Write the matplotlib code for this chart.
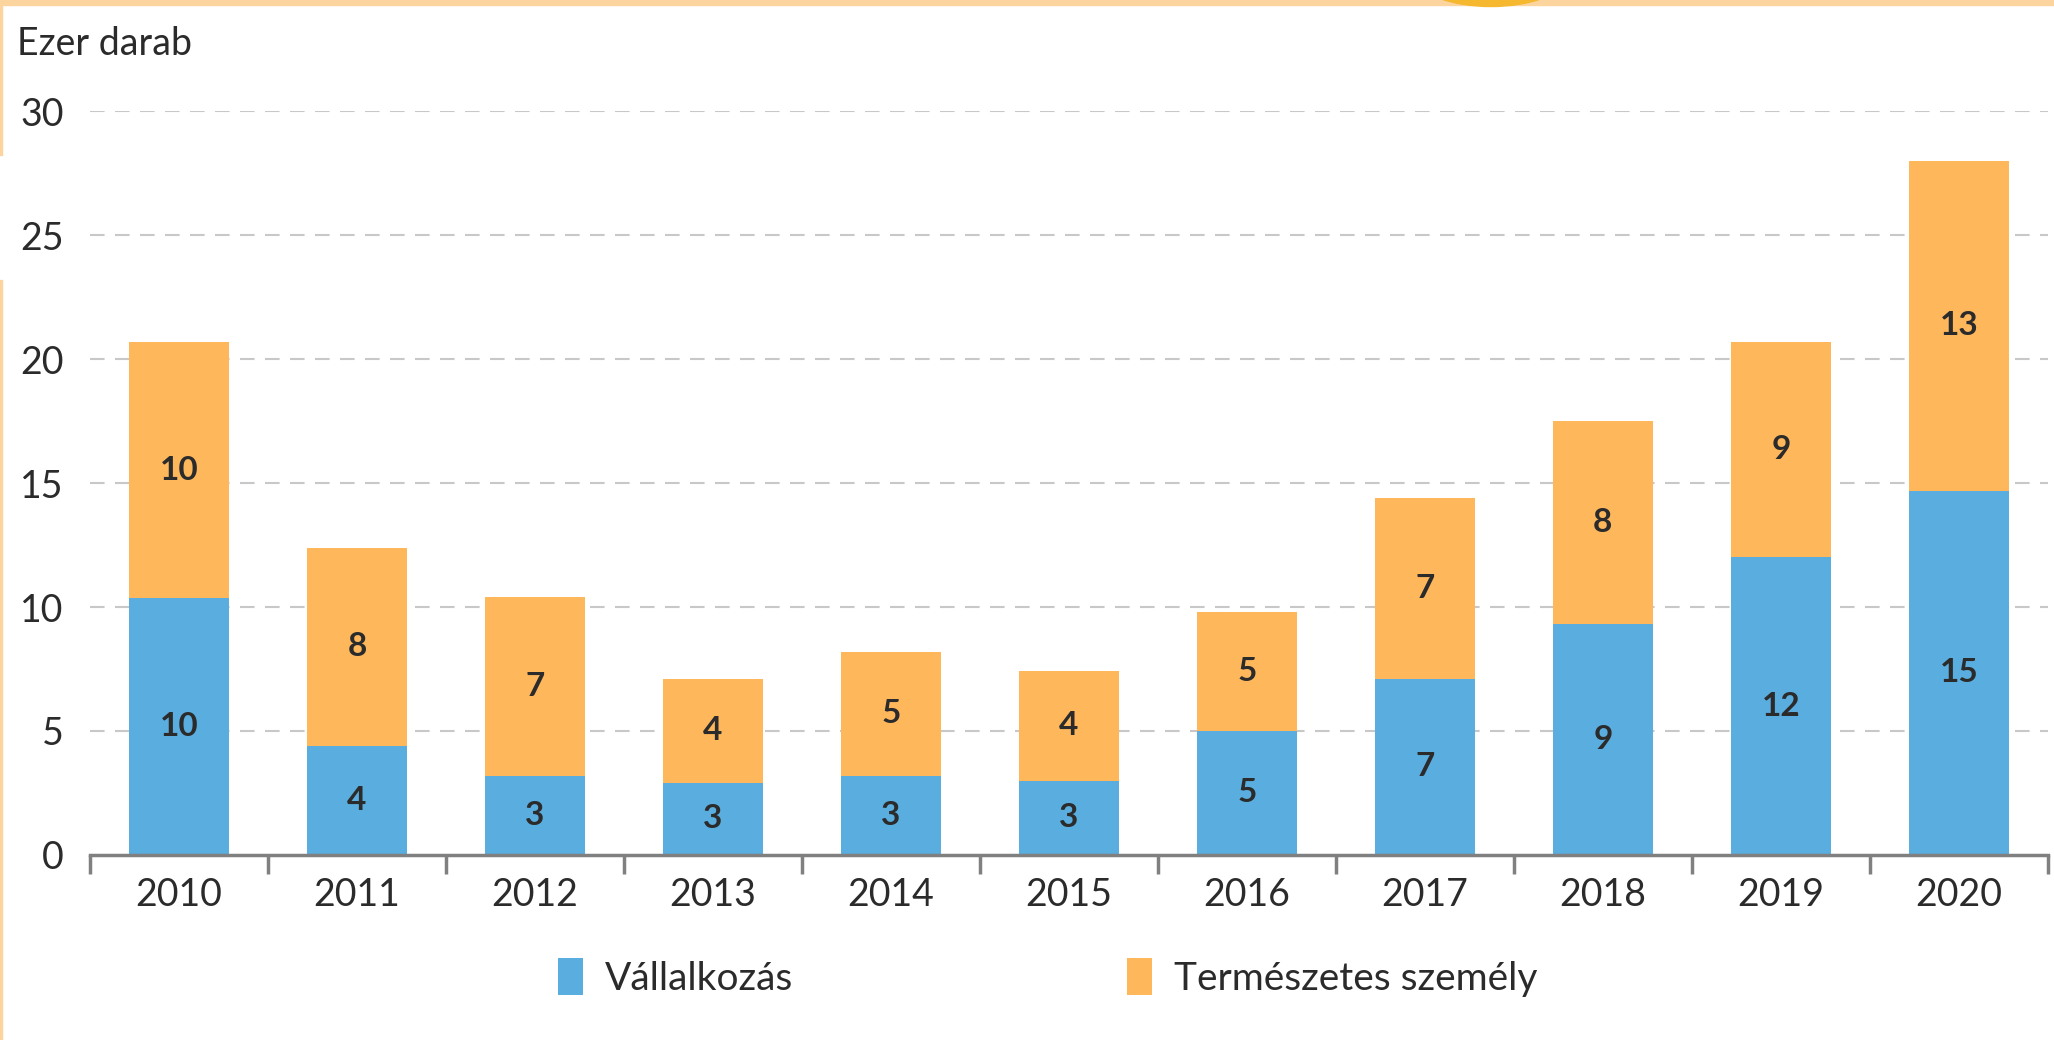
import matplotlib
matplotlib.use("Agg")
import matplotlib.pyplot as plt
import numpy as np
from matplotlib.patches import Rectangle, Ellipse

plt.rcParams['font.family'] = ['Lato', 'DejaVu Sans']

evek = ['2010', '2011', '2012', '2013', '2014', '2015',
        '2016', '2017', '2018', '2019', '2020']
vallalkozas = [10.35, 4.4, 3.2, 2.9, 3.2, 3.0, 5.0, 7.1, 9.3, 12.0, 14.7]
termeszetes = [10.35, 8.0, 7.2, 4.2, 5.0, 4.4, 4.8, 7.3, 8.2, 8.7, 13.3]

KEK = '#5aaddf'
NARANCS = '#ffb75c'
SZOVEG = '#2b2b2b'

fig = plt.figure(figsize=(20.54, 10.4), dpi=100)
ax = fig.add_axes([0.0438, 0.178, 0.9532, 0.715])

x = np.arange(len(evek))
also = np.array(vallalkozas)
felso = np.array(termeszetes)

ax.bar(x, also, width=0.56, color=KEK, zorder=3, label='Vállalkozás')
ax.bar(x, felso, width=0.56, bottom=also, color=NARANCS, zorder=3,
       label='Természetes személy')

for i in range(len(evek)):
    ax.text(x[i], also[i] / 2, f'{also[i]:.0f}', ha='center', va='center',
            fontsize=24, fontweight='bold', color=SZOVEG, zorder=4)
    ax.text(x[i], also[i] + felso[i] / 2, f'{felso[i]:.0f}', ha='center',
            va='center', fontsize=24, fontweight='bold', color=SZOVEG, zorder=4)

ax.set_xlim(-0.5, len(evek) - 0.5)
ax.set_ylim(0, 30)
ax.set_yticks([0, 5, 10, 15, 20, 25, 30])
ax.tick_params(axis='y', length=0, pad=19, labelsize=27, labelcolor=SZOVEG)

ax.set_xticks(x)
ax.set_xticklabels(evek)
ax.set_xticks(np.arange(-0.5, len(evek)), minor=True)
ax.tick_params(axis='x', which='major', length=0, pad=16, labelsize=27,
               labelcolor=SZOVEG)
ax.tick_params(axis='x', which='minor', direction='out', length=14,
               width=2.5, color='#808080')

for y in [5, 10, 15, 20, 25, 30]:
    ax.axhline(y, color='#c8c8c8', lw=1.5, linestyle=(0, (7, 5)), zorder=1)

for s in ['top', 'right', 'left']:
    ax.spines[s].set_visible(False)
ax.spines['bottom'].set_color('#808080')
ax.spines['bottom'].set_linewidth(2.5)
ax.spines['bottom'].set_zorder(5)

fig.text(0.0083, 0.947, 'Ezer darab', fontsize=27, color=SZOVEG,
         ha='left', va='baseline')

fig.legend(loc='center', bbox_to_anchor=(0.51, 0.06), ncol=2, frameon=False,
           fontsize=28, handlelength=0.65, handleheight=1.05, handletextpad=0.55,
           columnspacing=8.6, labelcolor=SZOVEG)

# keret
fig.patches.append(Rectangle((0, 1 - 5 / 1040), 1, 5 / 1040,
                             transform=fig.transFigure, color='#fcd49e', zorder=0))
fig.patches.append(Rectangle((0, 1 - 155 / 1040), 2 / 2054, 155 / 1040,
                             transform=fig.transFigure, color='#fcd49e', zorder=0))
fig.patches.append(Rectangle((0, 0), 2 / 2054, 1 - 280 / 1040,
                             transform=fig.transFigure, color='#fcd49e', zorder=0))
fig.patches.append(Ellipse((1491 / 2054, 1 + 0.02), 0.07, 0.0525,
                           transform=fig.transFigure, color='#f5b82e', zorder=1))

fig.savefig('out.png', dpi=100)
